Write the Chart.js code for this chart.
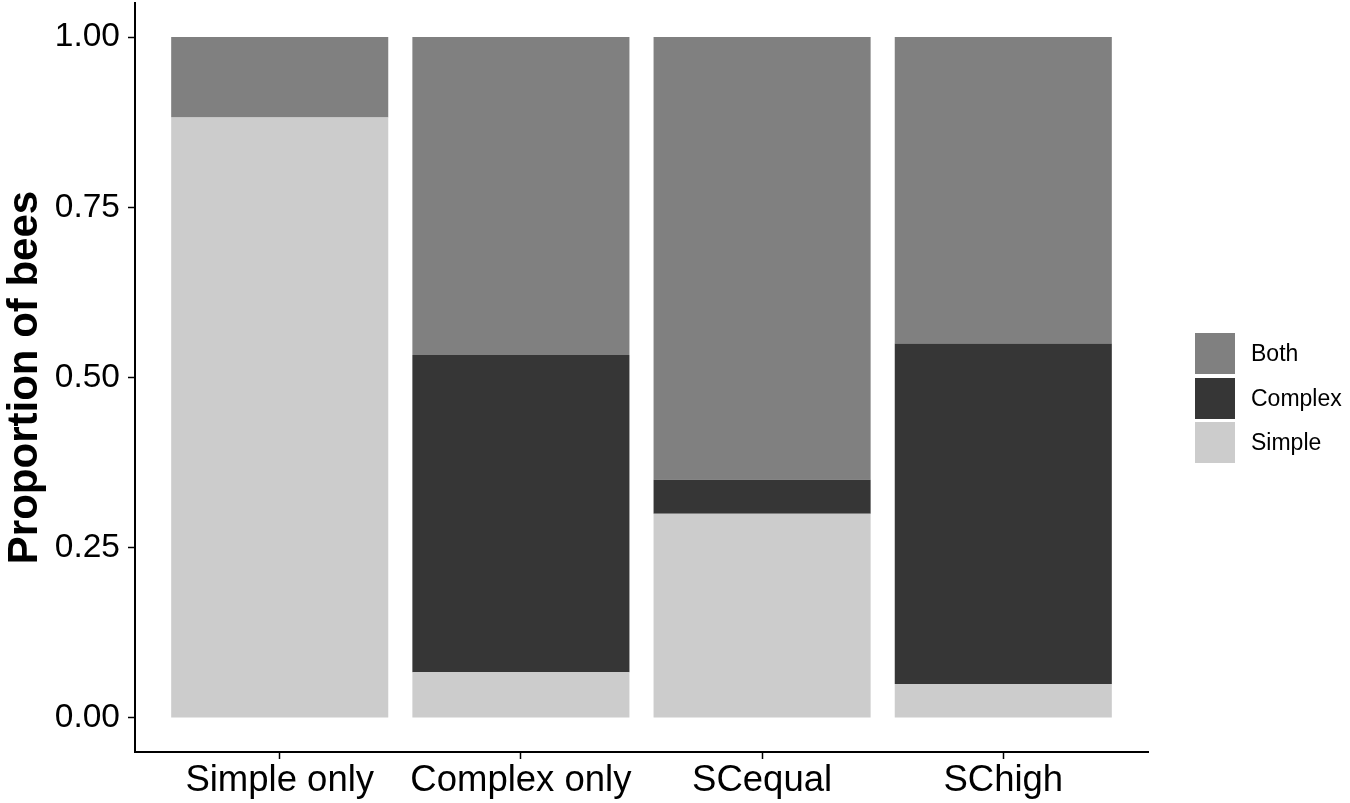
<!DOCTYPE html>
<html>
<head>
<meta charset="utf-8">
<script src="https://cdn.jsdelivr.net/npm/chart.js@4/dist/chart.umd.min.js"></script>
<style>
  html, body { margin: 0; padding: 0; background: #ffffff; }
  #wrap { position: relative; width: 1350px; height: 803px; }
  #c { position: absolute; left: 0; top: 0; }
  .leg { position: absolute; font-family: "Liberation Sans", Arial, sans-serif; font-size: 23px; color: #000; }
  .sw { position: absolute; width: 40px; height: 41px; }
  .lt { position: absolute; line-height: 41px; }
</style>
</head>
<body>
<div id="wrap">
  <canvas id="c" width="1350" height="803"></canvas>
  <div id="legend"></div>
</div>
<script>
const categories = ['Simple only', 'Complex only', 'SCequal', 'SChigh'];
const simpleVals  = [0.882, 0.067, 0.30, 0.05];
const complexVals = [0.000, 0.466, 0.05, 0.50];
const bothVals    = [0.118, 0.467, 0.65, 0.45];
const yTicks = [0, 0.25, 0.5, 0.75, 1.0];
const seriesNames = ['Simple', 'Complex', 'Both'];
const seriesColors = ['#cccccc', '#363636', '#808080'];

const seriesData = [simpleVals, complexVals, bothVals];
const datasets = seriesNames.map((name, i) => ({
  label: name,
  data: seriesData[i].map((v, j) => ({ x: j, y: v })),
  backgroundColor: seriesColors[i],
  borderWidth: 0,
  barPercentage: 0.9,
  categoryPercentage: 1.0
}));

// HTML legend (reverse order, as in the reference)
const legendEl = document.getElementById('legend');
const legTop = 333, legStep = 44.5;
seriesNames.slice().reverse().forEach((name, k) => {
  const color = seriesColors[seriesNames.length - 1 - k];
  const sw = document.createElement('div');
  sw.className = 'sw';
  sw.style.left = '1195px';
  sw.style.top = (legTop + k * legStep) + 'px';
  sw.style.background = color;
  legendEl.appendChild(sw);
  const t = document.createElement('div');
  t.className = 'leg lt';
  t.style.left = '1251px';
  t.style.top = (legTop + k * legStep) + 'px';
  t.textContent = name;
  legendEl.appendChild(t);
});

const font = "'Liberation Sans', Arial, sans-serif";
new Chart(document.getElementById('c'), {
  type: 'bar',
  data: { datasets },
  options: {
    responsive: false,
    animation: false,
    layout: { padding: { left: 0, right: 202, top: 3, bottom: 0 } },
    plugins: { legend: { display: false }, tooltip: { enabled: false } },
    scales: {
      x: {
        type: 'linear',
        stacked: true,
        offset: false,
        min: -0.6,
        max: 3.6,
        afterBuildTicks: s => { s.ticks = categories.map((c, i) => ({ value: i })); },
        afterFit: s => { s.height = 51; s.paddingLeft = 0; s.paddingRight = 0; },
        ticks: {
          color: '#000',
          font: { family: font, size: 36.5 },
          padding: 0,
          maxRotation: 0,
          autoSkip: false,
          callback: v => categories[v]
        },
        grid: { drawOnChartArea: false, offset: false, tickLength: 7, color: '#000', tickWidth: 1.5 },
        border: { display: true, color: '#000', width: 2 }
      },
      y: {
        stacked: true,
        min: -0.05,
        max: 1.05,
        afterBuildTicks: s => { s.ticks = yTicks.map(v => ({ value: v })); },
        afterFit: s => { s.width = 135; s.paddingTop = 0; s.paddingBottom = 0; },
        ticks: {
          color: '#000',
          font: { family: font, size: 33.5 },
          padding: 8,
          callback: v => Number(v).toFixed(2)
        },
        title: {
          display: true,
          text: 'Proportion of bees',
          color: '#000',
          font: { family: font, size: 42, weight: 'bold' },
          padding: { top: 0, bottom: 0 }
        },
        grid: { drawOnChartArea: false, tickLength: 7, color: '#000', tickWidth: 1.5 },
        border: { display: true, color: '#000', width: 2 }
      }
    }
  }
});
</script>
</body>
</html>
